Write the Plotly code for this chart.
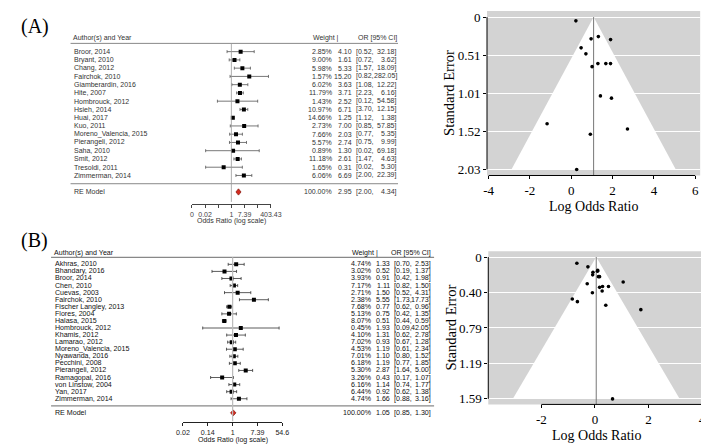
import numpy as np
import plotly.graph_objects as go

W, H = 709, 444

# ---------------- data : panel A ----------------
a_studies = ["Broor, 2014", "Bryant, 2010", "Chang, 2012", "Fairchok, 2010", "Giamberardin, 2016",
             "Hite, 2007", "Hombrouck, 2012", "Hsieh, 2014", "Huai, 2017", "Kuo, 2011",
             "Moreno_Valencia, 2015", "Pierangeli, 2012", "Saha, 2010", "Smit, 2012",
             "Tresoldi, 2011", "Zimmerman, 2014"]
a_weight = [2.85, 9.00, 5.98, 1.57, 6.02, 11.79, 1.43, 10.97, 14.66, 2.73, 7.66, 5.57, 0.89, 11.18, 1.65, 6.06]
a_or = [4.10, 1.61, 5.33, 15.20, 3.63, 3.71, 2.52, 6.71, 1.25, 7.00, 2.03, 2.74, 1.30, 2.61, 0.31, 6.69]
a_lo = [0.52, 0.72, 1.57, 0.82, 1.08, 2.23, 0.12, 3.70, 1.12, 0.85, 0.77, 0.75, 0.02, 1.47, 0.02, 2.00]
a_hi = [32.18, 3.62, 18.09, 282.05, 12.22, 6.16, 54.58, 12.15, 1.38, 57.85, 5.35, 9.99, 69.18, 4.63, 5.30, 22.39]
a_se = [1.05, 0.41, 0.62, 1.49, 0.62, 0.26, 1.56, 0.30, 0.05, 1.08, 0.49, 0.66, 2.03, 0.29, 1.42, 0.62]
a_re = [2.95, 2.00, 4.34]
a_axis_vals = [-6, -4, -2, 0, 2, 4, 6]
a_axis_text = ["0", "0.02", "", "1", "7.39", "", "403.43"]
a_funnel_xticks = [-4, -2, 0, 2, 4, 6]
a_funnel_yticks = ["0", "0.51", "1.01", "1.52", "2.03"]

# ---------------- data : panel B ----------------
b_studies = ["Akhras, 2010", "Bhandary, 2016", "Broor, 2014", "Chen, 2010", "Cuevas, 2003",
             "Fairchok, 2010", "Fischer Langley, 2013", "Flores, 2004", "Halasa, 2015",
             "Hombrouck, 2012", "Khamis, 2012", "Lamarao, 2012", "Moreno_Valencia, 2015",
             "Nyawanda, 2016", "Pecchini, 2008", "Pierangeli, 2012", "Ramagopal, 2016",
             "von Linstow, 2004", "Yan, 2017", "Zimmerman, 2014"]
b_weight = [4.74, 3.02, 3.93, 7.17, 2.71, 2.38, 7.68, 5.13, 8.07, 0.45, 4.10, 7.02, 4.53, 7.01, 6.18, 5.30, 3.26, 6.16, 6.44, 4.74]
b_or = [1.33, 0.52, 0.91, 1.11, 1.50, 5.55, 0.77, 0.75, 0.51, 1.93, 1.31, 0.93, 1.19, 1.10, 1.19, 2.87, 0.43, 1.14, 0.92, 1.66]
b_lo = [0.70, 0.19, 0.42, 0.82, 0.52, 1.73, 0.62, 0.42, 0.44, 0.09, 0.62, 0.67, 0.61, 0.80, 0.77, 1.64, 0.17, 0.74, 0.62, 0.88]
b_hi = [2.53, 1.37, 1.98, 1.50, 4.31, 17.73, 0.96, 1.35, 0.59, 42.05, 2.78, 1.28, 2.34, 1.52, 1.85, 5.00, 1.07, 1.77, 1.38, 3.16]
b_se = [0.33, 0.50, 0.40, 0.15, 0.54, 0.59, 0.11, 0.30, 0.07, 1.59, 0.38, 0.17, 0.34, 0.16, 0.22, 0.28, 0.47, 0.22, 0.20, 0.33]
b_re = [1.05, 0.85, 1.30]
b_axis_vals = [-4, -2, 0, 2, 4]
b_axis_text = ["0.02", "0.14", "1", "7.39", "54.6"]
b_funnel_xticks = [-2, 0, 2, 4]
b_funnel_yticks = ["0", "0.40", "0.79", "1.19", "1.59"]


def px(x):
    return x / W


def py(y):
    return 1 - y / H


fig = go.Figure()
annotations = []
shapes = []
SANS = "Liberation Sans, Arial, sans-serif"
SERIF = "Liberation Serif, Times New Roman, serif"


def add_forest(xa, ya, names, wts, ors, los, his, re, c):
    k = len(names)
    rows = np.arange(k, 0, -1)
    lx = np.log(ors)
    llo = np.log(los)
    lhi = np.log(his)
    fig.add_trace(go.Scatter(
        x=lx, y=rows, mode="markers", xaxis=xa, yaxis=ya, showlegend=False, hoverinfo="skip",
        marker=dict(symbol="square", size=c["msize"], color="black", line=dict(width=0)),
        error_x=dict(type="data", symmetric=False, array=lhi - lx, arrayminus=lx - llo,
                     color=c["ci"], thickness=0.8, width=1.5)))
    e, l, u = np.log(re)
    h = c["dh"]
    fig.add_trace(go.Scatter(
        x=[l, e, u, e, l], y=[-1, -1 + h, -1, -1 - h, -1], mode="lines", fill="toself",
        fillcolor="#d42a1e", line=dict(color="#8b1a10", width=0.8), xaxis=xa, yaxis=ya,
        showlegend=False, hoverinfo="skip"))
    yref = ya
    xref = xa
    f = dict(family=SANS, size=c["fs"], color=c["tc"])

    def ann(x, y, text, anchor):
        annotations.append(dict(x=px(x), y=y, xref="paper", yref=yref, text=text, showarrow=False,
                                xanchor=anchor, yanchor="middle", font=f, borderpad=0))

    for r, n, w, o, lo_, hi_ in zip(rows, names, wts, ors, los, his):
        ann(c["name_x"], r, n, "left")
        ann(c["w_r"], r, "%.2f%%" % w, "right")
        ann(c["e_r"], r, "%.2f" % o, "right")
        ann(c["l_l"], r, "[%.2f," % lo_, "left")
        ann(c["u_r"], r, "%.2f]" % hi_, "right")
    ann(c["name_x"], -1, "RE Model", "left")
    ann(c["w_r"], -1, "100.00%", "right")
    ann(c["e_r"], -1, "%.2f" % re[0], "right")
    ann(c["l_l"], -1, "[%.2f," % re[1], "left")
    ann(c["u_r"], -1, "%.2f]" % re[2], "right")
    hy = k + 1 + c["hdr"]
    ann(c["name_x"] - 1, hy, "Author(s) and Year", "left")
    ann(c["hw_r"], hy, "Weight |", "right")
    ann(c["u_r"], hy, "OR [95% CI]", "right")
    for yy in (k + 1, 0):
        shapes.append(dict(type="line", xref="paper", yref=yref, x0=px(c["line_x0"]), x1=px(c["line_x1"]),
                           y0=yy, y1=yy, line=dict(color=c["lc"], width=c["lw"])))
    shapes.append(dict(type="line", xref=xref, yref=yref, x0=0, x1=0, y0=k + 1, y1=c["ref_end"],
                       line=dict(color=c["refc"], width=c["refw"])))
    annotations.append(dict(x=0, y=py(c["title_y"]), xref=xref, yref="paper", text="Odds Ratio (log scale)",
                            showarrow=False, xanchor="center", yanchor="middle", font=f, borderpad=0))


A_CFG = dict(msize=4, ci="#555555", dh=0.38, fs=7, tc="#333333", name_x=59, w_r=326, e_r=347, l_l=349,
             u_r=393, hw_r=333, hdr=0.6, line_x0=57, line_x1=393, lc="#888888", lw=1,
             refc="#999999", refw=0.8, ref_end=-2.2, title_y=213)
B_CFG = dict(msize=4, ci="#333333", dh=0.42, fs=7.1, tc="#111111", name_x=40, w_r=367, e_r=386, l_l=388,
             u_r=428, hw_r=373, hdr=0.65, line_x0=37, line_x1=430, lc="#888888", lw=1.2,
             refc="#bbbbbb", refw=1.2, ref_end=-2.2, title_y=434)

add_forest("x", "y", a_studies, a_weight, a_or, a_lo, a_hi, a_re, A_CFG)
add_forest("x2", "y2", b_studies, b_weight, b_or, b_lo, b_hi, b_re, B_CFG)

A_X0, A_UX, A_R0, A_UR, A_AX = 222.0, 6.75, 175.3, 8.33, 196
B_X0, B_UX, B_R0, B_UR, B_AX = 223.3, 12.75, 399.4, 7.137, 416


def forest_axes(x0, ux, r0, ur, axy, vals, texts, fs, col):
    lo, hi = vals[0], vals[-1]
    xa = dict(domain=[px(x0 + lo * ux), px(x0 + hi * ux)], range=[lo, hi], anchor="free", position=py(axy),
              showline=True, linecolor=col, linewidth=0.8, ticks="outside", ticklen=3, tickwidth=0.8,
              tickcolor=col, tickvals=vals, ticktext=texts, tickfont=dict(family=SANS, size=fs, color=col),
              showgrid=False, zeroline=False, fixedrange=True)
    ya = dict(domain=[0, 1], range=[(r0 - H) / ur, r0 / ur], visible=False, fixedrange=True)
    return xa, ya


xa1, ya1 = forest_axes(A_X0, A_UX, A_R0, A_UR, A_AX, a_axis_vals, a_axis_text, 7, "#444444")
xa2, ya2 = forest_axes(B_X0, B_UX, B_R0, B_UR, B_AX, b_axis_vals, b_axis_text, 7.1, "#222222")


def add_funnel(xa, ya, ors, se, re, semax, xticks, ytext, xr, ydom, yr, ytitle_x, xlab_y):
    lor = np.log(ors)
    est = np.log(re[0])
    shapes.append(dict(type="rect", xref=xa + " domain", yref=ya + " domain", x0=0, x1=1, y0=0, y1=1,
                       fillcolor="#d3d3d3", line=dict(width=0), layer="below"))
    fig.add_trace(go.Scatter(x=[est - 1.96 * semax, est, est + 1.96 * semax], y=[semax, 0, semax],
                             mode="lines", fill="toself", fillcolor="white", line=dict(width=0, color="white"),
                             xaxis=xa, yaxis=ya, showlegend=False, hoverinfo="skip"))
    fig.add_trace(go.Scatter(x=[est, est], y=[0, yr[0]], mode="lines", line=dict(color="#777777", width=1),
                             xaxis=xa, yaxis=ya, showlegend=False, hoverinfo="skip"))
    fig.add_trace(go.Scatter(x=lor, y=se, mode="markers", marker=dict(size=3.6, color="black"),
                             xaxis=xa, yaxis=ya, showlegend=False, hoverinfo="skip"))
    shapes.append(dict(type="line", xref=xa, yref=ya + " domain", x0=xticks[0], x1=xticks[-1], y0=0, y1=0,
                       line=dict(color="black", width=1)))
    shapes.append(dict(type="line", xref=xa + " domain", yref=ya, x0=0, x1=0, y0=0, y1=semax,
                       line=dict(color="black", width=1)))
    yvals = [semax * i / 4 for i in range(5)]
    xaxis = dict(domain=[px(xr[0]), px(xr[1])], range=[xr[2], xr[3]], anchor=ya,
                 showline=False, ticks="outside", ticklen=3, tickcolor="black", tickwidth=1,
                 tickvals=xticks, ticktext=[str(t) for t in xticks],
                 tickfont=dict(family=SERIF, size=13, color="black"), showgrid=False, zeroline=False,
                 fixedrange=True)
    yaxis = dict(domain=[py(ydom[1]), py(ydom[0])], range=yr, anchor=xa, showline=False, ticks="outside",
                 ticklen=3, tickcolor="black", tickwidth=1, tickvals=yvals, ticktext=ytext,
                 tickfont=dict(family=SERIF, size=13, color="black"), showgrid=True, gridcolor="white",
                 gridwidth=1, zeroline=False, fixedrange=True)
    annotations.append(dict(x=px(ytitle_x), y=py((ydom[0] + ydom[1]) / 2), xref="paper", yref="paper",
                            text="Standard Error", textangle=-90, showarrow=False, xanchor="center",
                            yanchor="middle", font=dict(family=SERIF, size=14.5, color="black"), borderpad=0))
    annotations.append(dict(x=px((xr[0] + xr[1]) / 2), y=py(xlab_y), xref="paper", yref="paper",
                            text="Log Odds Ratio", showarrow=False, xanchor="center", yanchor="middle",
                            font=dict(family=SERIF, size=14, color="black"), borderpad=0))
    return xaxis, yaxis


xa3, ya3 = add_funnel("x3", "y3", a_or, a_se, a_re, max(a_se), a_funnel_xticks, a_funnel_yticks,
                      (484.3, 703.0, -4.08, 6.24), (1.0, 167.0), [2.11, -0.081], 446, 198)
xa4, ya4 = add_funnel("x4", "y4", b_or, b_se, b_re, max(b_se), b_funnel_xticks, b_funnel_yticks,
                      (485.6, 707.2, -3.98, 4.08), (243.5, 398.0), [1.652, -0.064], 447, 429)

for lab, yy in (("(A)", 17), ("(B)", 233)):
    annotations.append(dict(x=px(4), y=py(yy), xref="paper", yref="paper", text=lab, showarrow=False,
                            xanchor="left", yanchor="middle", font=dict(family=SERIF, size=20, color="black")))

fig.update_layout(
    width=W, height=H, margin=dict(l=0, r=0, t=0, b=0), autosize=False,
    paper_bgcolor="white", plot_bgcolor="rgba(0,0,0,0)", showlegend=False,
    xaxis=xa1, yaxis=ya1, xaxis2=xa2, yaxis2=ya2, xaxis3=xa3, yaxis3=ya3, xaxis4=xa4, yaxis4=ya4,
    annotations=annotations, shapes=shapes,
)
fig.write_html("out.html", config={"displayModeBar": False})
